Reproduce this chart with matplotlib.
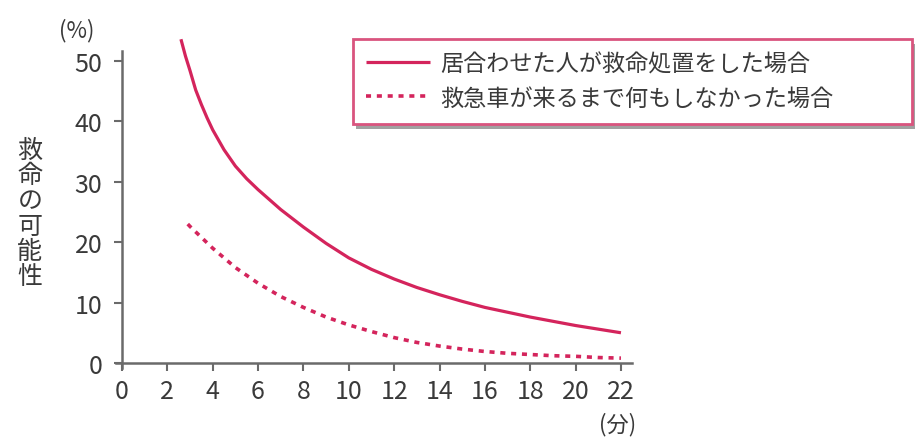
import matplotlib
matplotlib.use("Agg")
import matplotlib.pyplot as plt
from matplotlib.patches import Rectangle

plt.rcParams['font.family'] = ['Noto Sans CJK JP', 'DejaVu Sans']

# ---- data ----
x_aid = [2.6, 2.8, 3, 3.25, 3.5, 3.75, 4, 4.5, 5, 5.5, 6, 7, 8, 9, 10, 11, 12, 13, 14, 15, 16,
         17, 18, 19, 20, 21, 22]
y_aid = [53.6, 50.8, 48.4, 45.2, 42.8, 40.6, 38.6, 35.3, 32.6, 30.5, 28.7, 25.4, 22.5, 19.8,
         17.4, 15.5, 13.9, 12.5, 11.3, 10.2, 9.2, 8.4, 7.6, 6.9, 6.2, 5.6, 5.0]
x_none = [2.9, 3, 4, 5, 6, 7, 8, 9, 10, 11, 12, 13, 14, 15, 16, 17, 18, 19, 20, 21, 22]
y_none = [23.0, 22.6, 19.0, 15.8, 13.2, 11.0, 9.2, 7.6, 6.3, 5.2, 4.2, 3.4, 2.8, 2.3, 1.9,
          1.6, 1.4, 1.2, 1.1, 0.9, 0.8]
label_aid = "居合わせた人が救命処置をした場合"
label_none = "救急車が来るまで何もしなかった場合"
x_ticks = [0, 2, 4, 6, 8, 10, 12, 14, 16, 18, 20, 22]
y_ticks = [0, 10, 20, 30, 40, 50]
y_label = "救命の可能性"

W, H = 916, 439
fig = plt.figure(figsize=(W / 100, H / 100), dpi=100)
ax = fig.add_axes([116.3 / W, (H - 368.8) / H, (632.3 - 116.3) / W, (368.8 - 51.7) / H])

red = '#d4245c'
ax.plot(x_aid, y_aid, color=red, lw=2.3, solid_capstyle='butt', solid_joinstyle='round',
        label=label_aid, clip_on=False)
ax.plot(x_none, y_none, color=red, lw=2.6, linestyle=(0, (1.4, 1.6)), label=label_none,
        clip_on=False)

ax.set_xlim(-0.25, 22.5)
ax.set_ylim(-0.8, 51.7)
for s in ['top', 'right']:
    ax.spines[s].set_visible(False)
ax.spines['left'].set_position(('data', 0))
ax.spines['bottom'].set_position(('data', 0))
for s in ['left', 'bottom']:
    ax.spines[s].set_color('#6a6a6a')
    ax.spines[s].set_linewidth(1.8)
ax.set_xticks(x_ticks)
ax.set_yticks(y_ticks)
ax.tick_params(axis='both', colors='#6a6a6a', width=1.5, length=6, direction='out',
               labelcolor='#3a3a3a', labelsize=18)
ax.tick_params(axis='y', pad=8)
ax.tick_params(axis='x', pad=5)
ax.patch.set_alpha(0)

# axis unit labels
fig.text(77 / W, 1 - 31 / H, "(%)", ha='center', va='center', fontsize=16, color='#3a3a3a')
fig.text(618 / W, 1 - 425 / H, "(分)", ha='center', va='center', fontsize=16, color='#3a3a3a')

# vertical y label (stacked characters)
for i, ch in enumerate(y_label):
    fig.text(30 / W, 1 - (151 + 25.3 * i) / H, ch, ha='center', va='center',
             fontsize=18, color='#3a3a3a')

# legend frame with shadow
bx0, by0, bx1, by1 = 353, 39.5, 912, 125
shadow = Rectangle(((bx0 + 3) / W, 1 - (by1 + 5) / H), (bx1 - bx0) / W, (by1 - by0) / H,
                   transform=fig.transFigure, facecolor='#555555', edgecolor='none',
                   alpha=0.55, zorder=5)
frame = Rectangle((bx0 / W, 1 - by1 / H), (bx1 - bx0) / W, (by1 - by0) / H,
                  transform=fig.transFigure, facecolor='white', edgecolor='#d9547e',
                  lw=2.0, zorder=6)
fig.add_artist(shadow)
fig.add_artist(frame)
handles, labels = ax.get_legend_handles_labels()
leg = fig.legend(handles, labels, loc='center left', bbox_to_anchor=(366 / W, 1 - 82 / H),
                 bbox_transform=fig.transFigure, frameon=False, fontsize=16.7,
                 handlelength=2.75, handletextpad=0.45, labelspacing=0.48,
                 borderpad=0, borderaxespad=0, labelcolor='#3a3a3a')
leg.set_zorder(7)

fig.savefig('out.png', dpi=100)
